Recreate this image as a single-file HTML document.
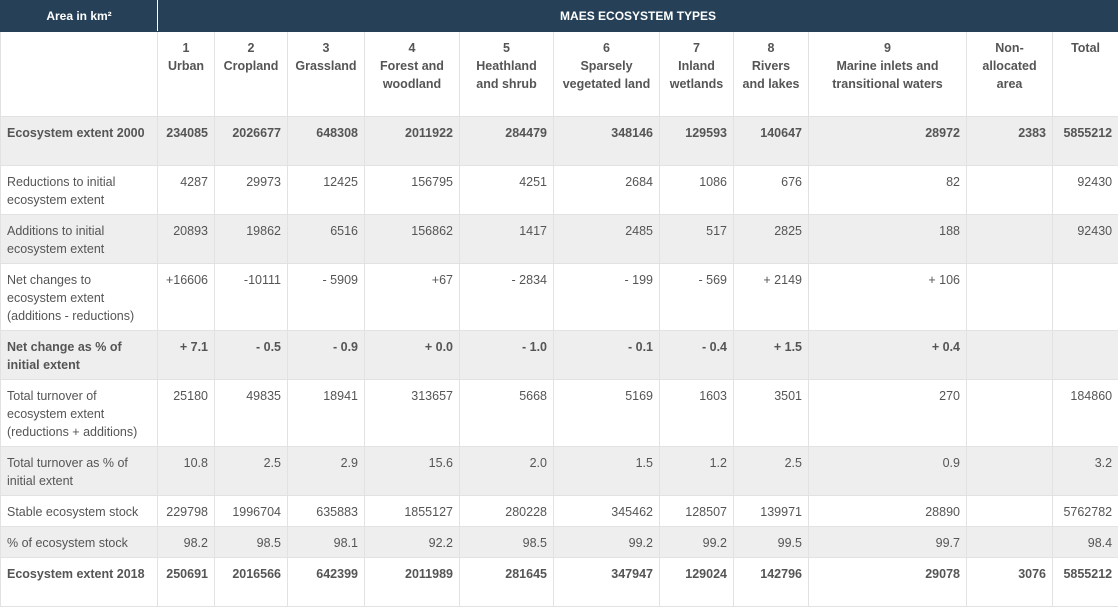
<!DOCTYPE html>
<html><head><meta charset="utf-8"><style>
body{margin:0;background:#fff;width:1118px;height:607px;overflow:hidden}
table{border-collapse:collapse;table-layout:fixed;width:1118px;font-family:"Liberation Sans",sans-serif;font-size:12.5px;color:#555;line-height:18px}
td,th{border:1px solid #e2e2e2;padding:7px 6px 0 6px;vertical-align:top;overflow:hidden}
td.n{text-align:right}
thead tr.h1 th{background:#264157;color:#fff;font-size:12px;padding:0;vertical-align:middle;height:30px;border:1px solid #264157;border-right:1px solid #fff}
thead tr.h2 th{text-align:center;font-weight:bold;color:#555;padding-top:7px}
tr.g td{background:#eeeeee}
tr.b td{font-weight:bold}
</style></head><body>
<table>
<colgroup><col style="width:157px"><col style="width:57px"><col style="width:73px"><col style="width:77px"><col style="width:95px"><col style="width:94px"><col style="width:106px"><col style="width:74px"><col style="width:75px"><col style="width:158px"><col style="width:86px"><col style="width:66px"></colgroup>
<thead>
<tr class="h1"><th>Area in km²</th><th colspan="11">MAES ECOSYSTEM TYPES</th></tr>
<tr class="h2" style="height:85px"><th></th>
<th>1<br>Urban</th>
<th>2<br>Cropland</th>
<th>3<br>Grassland</th>
<th>4<br>Forest and woodland</th>
<th>5<br>Heathland and shrub</th>
<th>6<br>Sparsely vegetated land</th>
<th>7<br>Inland wetlands</th>
<th>8<br>Rivers and lakes</th>
<th>9<br>Marine inlets and transitional waters</th>
<th>Non-<br>allocated area</th>
<th>Total</th></tr>
</thead>
<tbody>
<tr class="g b" style="height:49px"><td>Ecosystem extent 2000</td><td class="n">234085</td><td class="n">2026677</td><td class="n">648308</td><td class="n">2011922</td><td class="n">284479</td><td class="n">348146</td><td class="n">129593</td><td class="n">140647</td><td class="n">28972</td><td class="n">2383</td><td class="n">5855212</td></tr>
<tr style="height:49px"><td>Reductions to initial ecosystem extent</td><td class="n">4287</td><td class="n">29973</td><td class="n">12425</td><td class="n">156795</td><td class="n">4251</td><td class="n">2684</td><td class="n">1086</td><td class="n">676</td><td class="n">82</td><td></td><td class="n">92430</td></tr>
<tr class="g" style="height:49px"><td>Additions to initial ecosystem extent</td><td class="n">20893</td><td class="n">19862</td><td class="n">6516</td><td class="n">156862</td><td class="n">1417</td><td class="n">2485</td><td class="n">517</td><td class="n">2825</td><td class="n">188</td><td></td><td class="n">92430</td></tr>
<tr style="height:67px"><td>Net changes to ecosystem extent (additions - reductions)</td><td class="n">+16606</td><td class="n">-10111</td><td class="n">- 5909</td><td class="n">+67</td><td class="n">- 2834</td><td class="n">- 199</td><td class="n">- 569</td><td class="n">+ 2149</td><td class="n">+ 106</td><td></td><td></td></tr>
<tr class="g b" style="height:49px"><td>Net change as % of initial extent</td><td class="n">+ 7.1</td><td class="n">- 0.5</td><td class="n">- 0.9</td><td class="n">+ 0.0</td><td class="n">- 1.0</td><td class="n">- 0.1</td><td class="n">- 0.4</td><td class="n">+ 1.5</td><td class="n">+ 0.4</td><td></td><td></td></tr>
<tr style="height:67px"><td>Total turnover of ecosystem extent (reductions + additions)</td><td class="n">25180</td><td class="n">49835</td><td class="n">18941</td><td class="n">313657</td><td class="n">5668</td><td class="n">5169</td><td class="n">1603</td><td class="n">3501</td><td class="n">270</td><td></td><td class="n">184860</td></tr>
<tr class="g" style="height:49px"><td>Total turnover as % of initial extent</td><td class="n">10.8</td><td class="n">2.5</td><td class="n">2.9</td><td class="n">15.6</td><td class="n">2.0</td><td class="n">1.5</td><td class="n">1.2</td><td class="n">2.5</td><td class="n">0.9</td><td></td><td class="n">3.2</td></tr>
<tr style="height:31px"><td>Stable ecosystem stock</td><td class="n">229798</td><td class="n">1996704</td><td class="n">635883</td><td class="n">1855127</td><td class="n">280228</td><td class="n">345462</td><td class="n">128507</td><td class="n">139971</td><td class="n">28890</td><td></td><td class="n">5762782</td></tr>
<tr class="g" style="height:31px"><td>% of ecosystem stock</td><td class="n">98.2</td><td class="n">98.5</td><td class="n">98.1</td><td class="n">92.2</td><td class="n">98.5</td><td class="n">99.2</td><td class="n">99.2</td><td class="n">99.5</td><td class="n">99.7</td><td></td><td class="n">98.4</td></tr>
<tr class="b" style="height:49px"><td>Ecosystem extent 2018</td><td class="n">250691</td><td class="n">2016566</td><td class="n">642399</td><td class="n">2011989</td><td class="n">281645</td><td class="n">347947</td><td class="n">129024</td><td class="n">142796</td><td class="n">29078</td><td class="n">3076</td><td class="n">5855212</td></tr>
</tbody></table>
</body></html>
